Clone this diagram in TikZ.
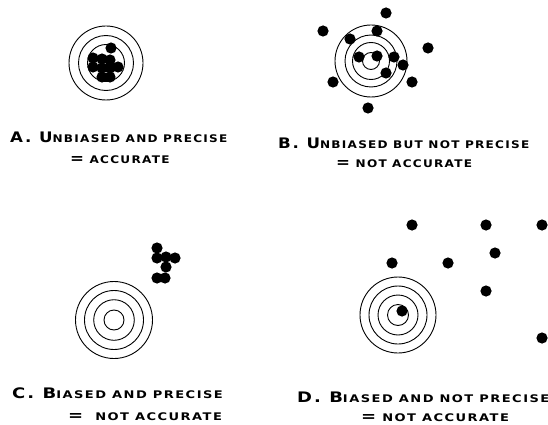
\documentclass[tikz,border=0pt]{standalone}
\usepackage{fontspec}
\newfontfamily\capfont{DejaVu Sans Bold}[LetterSpace=12, FakeStretch=1.15]
\newfontfamily\capfontwide{DejaVu Sans Bold}[LetterSpace=14, FakeStretch=1.24]
\newcommand\capsbig[1]{{\fontsize{14.5}{15}\selectfont #1}}
\tikzset{
  ring/.style={draw, line width=0.9pt},
  shot/.style={fill=black},
  caption/.style={anchor=base west, inner sep=0pt, font=\capfont\fontsize{10.5}{11}\selectfont},
  captionwide/.style={caption, font=\capfontwide\fontsize{10.5}{11}\selectfont}
}

\begin{document}
\begin{tikzpicture}[x=1pt, y=-1pt]
\useasboundingbox (0,0) rectangle (548,425);

% Target centres
\coordinate (tA) at (106,63);
\coordinate (tB) at (371,61);
\coordinate (tC) at (114,320);
\coordinate (tD) at (398,315);

% A: unbiased and precise
\foreach \r in {37,27.5,18.5} \draw[ring] (tA) circle (\r);
\foreach \p in {(111,48),(93,58),(102,59),(110,60),(118,67),(93,67),(102,68),(110,68),(102,77),(110,77)}
  \fill[shot] \p circle (5.6);

% B: unbiased but not precise
\foreach \r in {36,26,18.5,8.5} \draw[ring] (tB) circle (\r);
\foreach \p in {(386,13),(323,31),(377,31),(350,39),(428,48),(359,57),(377,56),(394,57),(403,65),(386,73),(333,82),(412,82),(368,108)}
  \fill[shot] \p circle (5.6);

% C: biased and precise
\foreach \r in {38.5,29.5,20.3,10} \draw[ring] (tC) circle (\r);
\foreach \p in {(157,248),(157,258),(166,257),(175,258),(166,267),(157,278),(165,278)}
  \fill[shot] \p circle (5.6);

% D: biased and not precise
\foreach \r in {38,29,20,10.5} \draw[ring] (tD) circle (\r);
\foreach \p in {(412,225),(486,225),(542,225),(495,253),(392,263),(448,263),(486,291),(402,311),(542,338)}
  \fill[shot] \p circle (5.6);

% Captions
\node[caption] (capA1) at (10,142) {\capsbig{A. U}NBIASED AND PRECISE};
\node[caption] (capA2) at (70,163) {\capsbig{=} ACCURATE};
\node[caption] (capB1) at (278,148) {\capsbig{B. U}NBIASED BUT NOT PRECISE};
\node[caption] (capB2) at (336,167) {\capsbig{=} NOT ACCURATE};
\node[captionwide] (capC1) at (12,398) {\capsbig{C. B}IASED AND PRECISE};
\node[captionwide] (capC2) at (68,420) {\capsbig{=}\ \ NOT ACCURATE};
\node[captionwide] (capD1) at (297,402) {\capsbig{D. B}IASED AND NOT PRECISE};
\node[captionwide] (capD2) at (361,421) {\capsbig{=} NOT ACCURATE};
\end{tikzpicture}
\end{document}
